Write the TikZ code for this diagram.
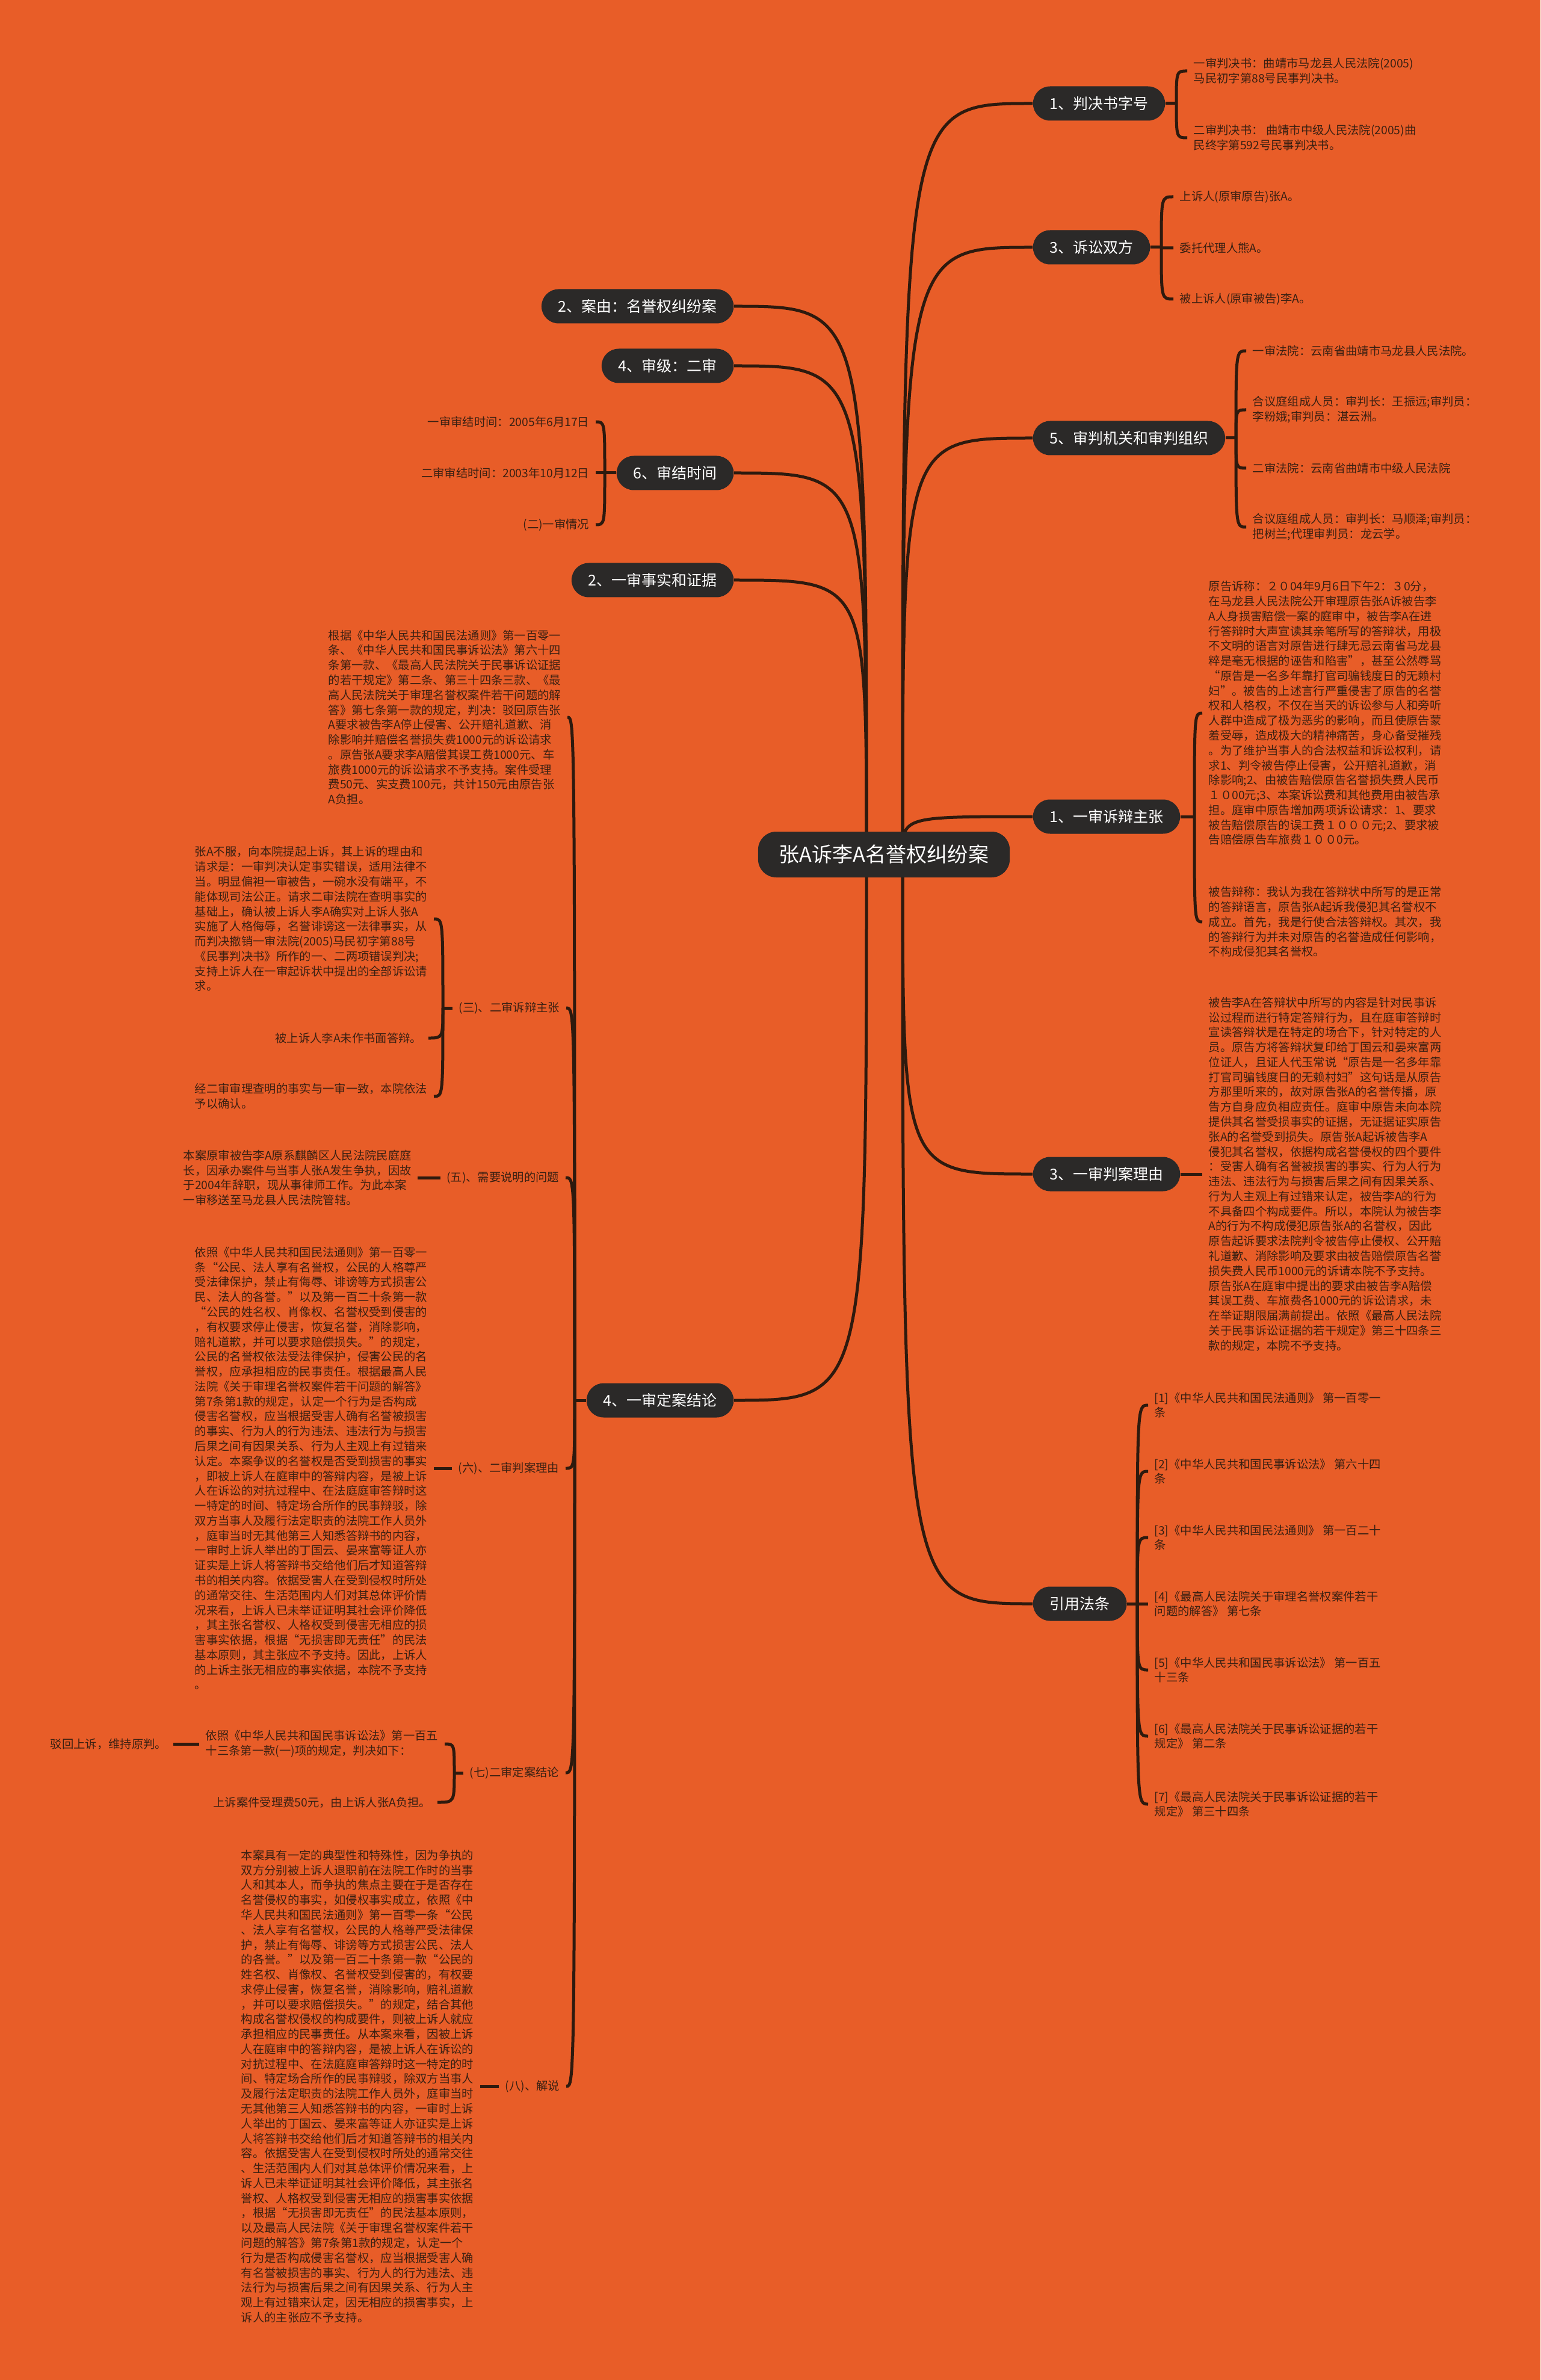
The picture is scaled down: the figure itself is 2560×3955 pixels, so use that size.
\documentclass[tikz,border=0pt]{standalone}
\usepackage{fontspec}
\setmainfont{Noto Sans CJK SC}

\definecolor{paper}{RGB}{232,93,40}
\definecolor{ink}{RGB}{58,32,18}
\definecolor{pill}{RGB}{43,41,40}
\definecolor{wire}{RGB}{46,26,14}

\pgfdeclarelayer{paperlayer}
\pgfdeclarelayer{wires}
\pgfsetlayers{paperlayer,wires,main}

\tikzset{
  topic/.style={fill=pill, text=white, rounded corners=2.85mm, minimum height=5.7mm,
    inner xsep=2.8mm, inner ysep=0pt, font=\fontsize{7.1pt}{8pt}\selectfont},
  leaf/.style={text=ink, inner xsep=1mm, inner ysep=0pt, align=left,
    font=\fontsize{5.5pt}{7.05pt}\selectfont},
  link/.style={draw=wire, line width=0.5mm},
}

\begin{document}
\begin{tikzpicture}[x=0.1mm, y=-0.1mm]
        % Paper
        \begin{pgfonlayer}{paperlayer}
          \fill[paper] (0,0) rectangle (2560,3955);
        \end{pgfonlayer}

        % Root
        \node[topic, minimum height=7.6mm, rounded corners=3mm, inner xsep=3.5mm,
          font=\fontsize{9.7pt}{11pt}\selectfont] (root) at (1469,1420) {张A诉李A名誉权纠纷案};

        % Right topics
        \node[topic, anchor=west] (num)    at (1716,172)  {1、判决书字号};
        \node[topic, anchor=west] (party)  at (1716,411)  {3、诉讼双方};
        \node[topic, anchor=west] (court)  at (1716,728)  {5、审判机关和审判组织};
        \node[topic, anchor=west] (plead)  at (1716,1357) {1、一审诉辩主张};
        \node[topic, anchor=west] (reason) at (1716,1951) {3、一审判案理由};
        \node[topic, anchor=west] (law)    at (1716,2665) {引用法条};

        % Left topics
        \node[topic, anchor=east] (cause)   at (1220,509)  {2、案由：名誉权纠纷案};
        \node[topic, anchor=east] (level)   at (1220,608)  {4、审级：二审};
        \node[topic, anchor=east] (time)    at (1220,786)  {6、审结时间};
        \node[topic, anchor=east] (fact)    at (1220,964)  {2、一审事实和证据};
        \node[topic, anchor=east] (verdict) at (1220,2327) {4、一审定案结论};

        % Judgement numbers
        \node[leaf, anchor=west] (numA) at (1973,118) {一审判决书：曲靖市马龙县人民法院(2005)\\马民初字第88号民事判决书。};
        \node[leaf, anchor=west] (numB) at (1973,229) {二审判决书： 曲靖市中级人民法院(2005)曲\\民终字第592号民事判决书。};

        % Parties
        \node[leaf, anchor=west] (partyA) at (1950,327) {上诉人(原审原告)张A。};
        \node[leaf, anchor=west] (partyB) at (1950,412) {委托代理人熊A。};
        \node[leaf, anchor=west] (partyC) at (1950,497) {被上诉人(原审被告)李A。};

        % Courts
        \node[leaf, anchor=west] (courtA) at (2071,583) {一审法院：云南省曲靖市马龙县人民法院。};
        \node[leaf, anchor=west] (courtB) at (2071,681) {合议庭组成人员：审判长：王振远;审判员：\\李粉娥;审判员：湛云洲。};
        \node[leaf, anchor=west] (courtC) at (2071,778) {二审法院：云南省曲靖市中级人民法院};
        \node[leaf, anchor=west] (courtD) at (2071,876) {合议庭组成人员：审判长：马顺泽;审判员：\\把树兰;代理审判员：龙云学。};

        % First instance pleadings
        \node[leaf, anchor=west] (pleadA) at (1998,1185) {原告诉称：２０04年9月6日下午2：３0分，\\
在马龙县人民法院公开审理原告张A诉被告李\\
A人身损害赔偿一案的庭审中，被告李A在进\\
行答辩时大声宣读其亲笔所写的答辩状，用极\\
不文明的语言对原告进行肆无忌云南省马龙县\\
粹是毫无根据的诬告和陷害”，甚至公然辱骂\\
“原告是一名多年靠打官司骗钱度日的无赖村\\
妇”。被告的上述言行严重侵害了原告的名誉\\
权和人格权，不仅在当天的诉讼参与人和旁听\\
人群中造成了极为恶劣的影响，而且使原告蒙\\
羞受辱，造成极大的精神痛苦，身心备受摧残\\
。为了维护当事人的合法权益和诉讼权利，请\\
求1、判令被告停止侵害，公开赔礼道歉，消\\
除影响;2、由被告赔偿原告名誉损失费人民币\\
１０00元;3、本案诉讼费和其他费用由被告承\\
担。庭审中原告增加两项诉讼请求：1、要求\\
被告赔偿原告的误工费１０００元;2、要求被\\
告赔偿原告车旅费１００0元。};
        \node[leaf, anchor=west] (pleadB) at (1998,1532) {被告辩称：我认为我在答辩状中所写的是正常\\
的答辩语言，原告张A起诉我侵犯其名誉权不\\
成立。首先，我是行使合法答辩权。其次，我\\
的答辩行为并未对原告的名誉造成任何影响，\\
不构成侵犯其名誉权。};

        % First instance reasons
        \node[leaf, anchor=west] (reasonA) at (1998,1951) {被告李A在答辩状中所写的内容是针对民事诉\\
讼过程而进行特定答辩行为，且在庭审答辩时\\
宣读答辩状是在特定的场合下，针对特定的人\\
员。原告方将答辩状复印给丁国云和晏来富两\\
位证人，且证人代玉常说“原告是一名多年靠\\
打官司骗钱度日的无赖村妇”这句话是从原告\\
方那里听来的，故对原告张A的名誉传播，原\\
告方自身应负相应责任。庭审中原告未向本院\\
提供其名誉受损事实的证据，无证据证实原告\\
张A的名誉受到损失。原告张A起诉被告李A\\
侵犯其名誉权，依据构成名誉侵权的四个要件\\
：受害人确有名誉被损害的事实、行为人行为\\
违法、违法行为与损害后果之间有因果关系、\\
行为人主观上有过错来认定，被告李A的行为\\
不具备四个构成要件。所以，本院认为被告李\\
A的行为不构成侵犯原告张A的名誉权，因此\\
原告起诉要求法院判令被告停止侵权、公开赔\\
礼道歉、消除影响及要求由被告赔偿原告名誉\\
损失费人民币1000元的诉请本院不予支持。\\
原告张A在庭审中提出的要求由被告李A赔偿\\
其误工费、车旅费各1000元的诉讼请求，未\\
在举证期限届满前提出。依照《最高人民法院\\
关于民事诉讼证据的若干规定》第三十四条三\\
款的规定，本院不予支持。};

        % Cited laws
        \node[leaf, anchor=west] (lawA) at (1908,2335) {[1]《中华人民共和国民法通则》 第一百零一\\条};
        \node[leaf, anchor=west] (lawB) at (1908,2445) {[2]《中华人民共和国民事诉讼法》 第六十四\\条};
        \node[leaf, anchor=west] (lawC) at (1908,2555) {[3]《中华人民共和国民法通则》 第一百二十\\条};
        \node[leaf, anchor=west] (lawD) at (1908,2665) {[4]《最高人民法院关于审理名誉权案件若干\\问题的解答》 第七条};
        \node[leaf, anchor=west] (lawE) at (1908,2775) {[5]《中华人民共和国民事诉讼法》 第一百五\\十三条};
        \node[leaf, anchor=west] (lawF) at (1908,2885) {[6]《最高人民法院关于民事诉讼证据的若干\\规定》 第二条};
        \node[leaf, anchor=west] (lawG) at (1908,2998) {[7]《最高人民法院关于民事诉讼证据的若干\\规定》 第三十四条};

        % Dates
        \node[leaf, anchor=east] (timeA) at (990,701) {一审审结时间：2005年6月17日};
        \node[leaf, anchor=east] (timeB) at (990,786) {二审审结时间：2003年10月12日};
        \node[leaf, anchor=east] (timeC) at (990,872) {(二)一审情况};

        % Verdict branch
        \node[leaf, anchor=west] (ruling) at (535,1192) {根据《中华人民共和国民法通则》第一百零一\\
条、《中华人民共和国民事诉讼法》第六十四\\
条第一款、《最高人民法院关于民事诉讼证据\\
的若干规定》第二条、第三十四条三款、《最\\
高人民法院关于审理名誉权案件若干问题的解\\
答》第七条第一款的规定，判决：驳回原告张\\
A要求被告李A停止侵害、公开赔礼道歉、消\\
除影响并赔偿名誉损失费1000元的诉讼请求\\
。原告张A要求李A赔偿其误工费1000元、车\\
旅费1000元的诉讼请求不予支持。案件受理\\
费50元、实支费100元，共计150元由原告张\\
A负担。};

        \node[leaf, anchor=east] (appeal) at (941,1675) {(三)、二审诉辩主张};
        \node[leaf, anchor=west] (appealA) at (313,1527) {张A不服，向本院提起上诉，其上诉的理由和\\
请求是：一审判决认定事实错误，适用法律不\\
当。明显偏袒一审被告，一碗水没有端平，不\\
能体现司法公正。请求二审法院在查明事实的\\
基础上，确认被上诉人李A确实对上诉人张A\\
实施了人格侮辱，名誉诽谤这一法律事实，从\\
而判决撤销一审法院(2005)马民初字第88号\\
《民事判决书》所作的一、二两项错误判决;\\
支持上诉人在一审起诉状中提出的全部诉讼请\\
求。};
        \node[leaf, anchor=east] (appealB) at (712,1725) {被上诉人李A未作书面答辩。};
        \node[leaf, anchor=west] (appealC) at (313,1822) {经二审审理查明的事实与一审一致，本院依法\\予以确认。};

        \node[leaf, anchor=east] (note) at (940,1957) {(五)、需要说明的问题};
        \node[leaf, anchor=west] (noteA) at (294,1957) {本案原审被告李A原系麒麟区人民法院民庭庭\\
长，因承办案件与当事人张A发生争执，因故\\
于2004年辞职，现从事律师工作。为此本案\\
一审移送至马龙县人民法院管辖。};

        \node[leaf, anchor=east] (why) at (940,2440) {(六)、二审判案理由};
        \node[leaf, anchor=west] (whyA) at (313,2440) {依照《中华人民共和国民法通则》第一百零一\\
条“公民、法人享有名誉权，公民的人格尊严\\
受法律保护，禁止有侮辱、诽谤等方式损害公\\
民、法人的各誉。”以及第一百二十条第一款\\
“公民的姓名权、肖像权、名誉权受到侵害的\\
，有权要求停止侵害，恢复名誉，消除影响，\\
赔礼道歉，并可以要求赔偿损失。”的规定，\\
公民的名誉权依法受法律保护，侵害公民的名\\
誉权，应承担相应的民事责任。根据最高人民\\
法院《关于审理名誉权案件若干问题的解答》\\
第7条第1款的规定，认定一个行为是否构成\\
侵害名誉权，应当根据受害人确有名誉被损害\\
的事实、行为人的行为违法、违法行为与损害\\
后果之间有因果关系、行为人主观上有过错来\\
认定。本案争议的名誉权是否受到损害的事实\\
，即被上诉人在庭审中的答辩内容，是被上诉\\
人在诉讼的对抗过程中、在法庭庭审答辩时这\\
一特定的时间、特定场合所作的民事辩驳，除\\
双方当事人及履行法定职责的法院工作人员外\\
，庭审当时无其他第三人知悉答辩书的内容，\\
一审时上诉人举出的丁国云、晏来富等证人亦\\
证实是上诉人将答辩书交给他们后才知道答辩\\
书的相关内容。依据受害人在受到侵权时所处\\
的通常交往、生活范围内人们对其总体评价情\\
况来看，上诉人已未举证证明其社会评价降低\\
，其主张名誉权、人格权受到侵害无相应的损\\
害事实依据，根据“无损害即无责任”的民法\\
基本原则，其主张应不予支持。因此，上诉人\\
的上诉主张无相应的事实依据，本院不予支持\\
。};

        \node[leaf, anchor=east] (final) at (940,2946) {(七)二审定案结论};
        \node[leaf, anchor=west] (finalA) at (331,2898) {依照《中华人民共和国民事诉讼法》第一百五\\十三条第一款(一)项的规定，判决如下：};
        \node[leaf, anchor=east] (finalAA) at (288,2898) {驳回上诉，维持原判。};
        \node[leaf, anchor=east] (finalB) at (727,2995) {上诉案件受理费50元，由上诉人张A负担。};

        \node[leaf, anchor=east] (comment) at (941,3467) {(八)、解说};
        \node[leaf, anchor=west] (commentA) at (390,3467) {本案具有一定的典型性和特殊性，因为争执的\\
双方分别被上诉人退职前在法院工作时的当事\\
人和其本人，而争执的焦点主要在于是否存在\\
名誉侵权的事实，如侵权事实成立，依照《中\\
华人民共和国民法通则》第一百零一条“公民\\
、法人享有名誉权，公民的人格尊严受法律保\\
护，禁止有侮辱、诽谤等方式损害公民、法人\\
的各誉。”以及第一百二十条第一款“公民的\\
姓名权、肖像权、名誉权受到侵害的，有权要\\
求停止侵害，恢复名誉，消除影响，赔礼道歉\\
，并可以要求赔偿损失。”的规定，结合其他\\
构成名誉权侵权的构成要件，则被上诉人就应\\
承担相应的民事责任。从本案来看，因被上诉\\
人在庭审中的答辩内容，是被上诉人在诉讼的\\
对抗过程中、在法庭庭审答辩时这一特定的时\\
间、特定场合所作的民事辩驳，除双方当事人\\
及履行法定职责的法院工作人员外，庭审当时\\
无其他第三人知悉答辩书的内容，一审时上诉\\
人举出的丁国云、晏来富等证人亦证实是上诉\\
人将答辩书交给他们后才知道答辩书的相关内\\
容。依据受害人在受到侵权时所处的通常交往\\
、生活范围内人们对其总体评价情况来看，上\\
诉人已未举证证明其社会评价降低，其主张名\\
誉权、人格权受到侵害无相应的损害事实依据\\
，根据“无损害即无责任”的民法基本原则，\\
以及最高人民法院《关于审理名誉权案件若干\\
问题的解答》第7条第1款的规定，认定一个\\
行为是否构成侵害名誉权，应当根据受害人确\\
有名誉被损害的事实、行为人的行为违法、违\\
法行为与损害后果之间有因果关系、行为人主\\
观上有过错来认定，因无相应的损害事实，上\\
诉人的主张应不予支持。};

        % Junctions
        \coordinate (sr) at (1500,1420);
        \coordinate (sl) at (1440,1420);
        \coordinate (jnum) at (1955,172);
        \coordinate (jparty) at (1930,411);
        \coordinate (jcourt) at (2054,728);
        \coordinate (jplead) at (1985,1357);
        \coordinate (jlaw) at (1890,2665);
        \coordinate (jtime) at (1005,786);
        \coordinate (jverdict) at (955,2327);
        \coordinate (jappeal) at (736,1675);
        \coordinate (jfinal) at (755,2946);

        % Connectors
        \begin{pgfonlayer}{wires}
          \foreach \c in {num,party,court,plead,reason,law}
            \draw[link] (sr) .. controls (sr |- \c.west) .. (\c.west);
          \foreach \c in {cause,level,time,fact,verdict}
            \draw[link] (sl) .. controls (sl |- \c.east) .. (\c.east);

          \draw[link] (num.east) -- (jnum);
          \foreach \c in {numA,numB}
            \draw[link] (jnum) .. controls (jnum |- \c.west) .. (\c.west);
          \draw[link] (party.east) -- (jparty);
          \foreach \c in {partyA,partyB,partyC}
            \draw[link] (jparty) .. controls (jparty |- \c.west) .. (\c.west);
          \draw[link] (court.east) -- (jcourt);
          \foreach \c in {courtA,courtB,courtC,courtD}
            \draw[link] (jcourt) .. controls (jcourt |- \c.west) .. (\c.west);
          \draw[link] (plead.east) -- (jplead);
          \foreach \c in {pleadA,pleadB}
            \draw[link] (jplead) .. controls (jplead |- \c.west) .. (\c.west);
          \draw[link] (reason.east) -- (reasonA.west);
          \draw[link] (law.east) -- (jlaw);
          \foreach \c in {lawA,lawB,lawC,lawD,lawE,lawF,lawG}
            \draw[link] (jlaw) .. controls (jlaw |- \c.west) .. (\c.west);

          \draw[link] (time.west) -- (jtime);
          \foreach \c in {timeA,timeB,timeC}
            \draw[link] (jtime) .. controls (jtime |- \c.east) .. (\c.east);
          \draw[link] (verdict.west) -- (jverdict);
          \foreach \c in {ruling,appeal,note,why,final,comment}
            \draw[link] (jverdict) .. controls (jverdict |- \c.east) .. (\c.east);
          \draw[link] (appeal.west) -- (jappeal);
          \foreach \c in {appealA,appealB,appealC}
            \draw[link] (jappeal) .. controls (jappeal |- \c.east) .. (\c.east);
          \draw[link] (note.west) -- (noteA.east);
          \draw[link] (why.west) -- (whyA.east);
          \draw[link] (final.west) -- (jfinal);
          \foreach \c in {finalA,finalB}
            \draw[link] (jfinal) .. controls (jfinal |- \c.east) .. (\c.east);
          \draw[link] (finalA.west) -- (finalAA.east);
          \draw[link] (comment.west) -- (commentA.east);
        \end{pgfonlayer}
\end{tikzpicture}
\end{document}
